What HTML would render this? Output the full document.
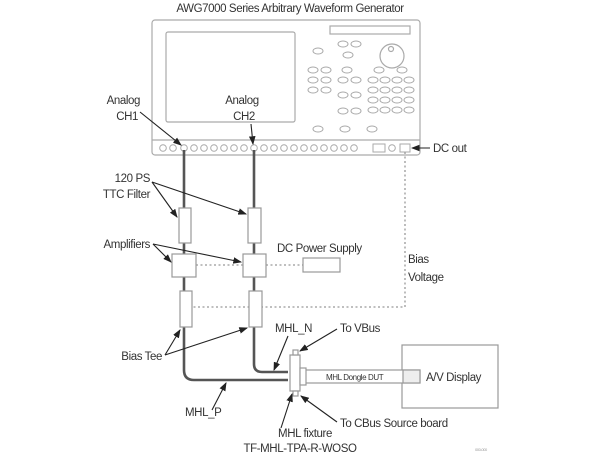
<!DOCTYPE html>
<html><head><style>
html,body{margin:0;padding:0;background:#fff;}
svg{display:block;}
text{font-family:"Liberation Sans",sans-serif;font-size:11.5px;fill:#333;letter-spacing:-0.4px;}
</style></head><body>
<svg width="600" height="458" viewBox="0 0 600 458" xmlns="http://www.w3.org/2000/svg">
<defs><marker id="a" markerWidth="8" markerHeight="6" refX="7" refY="3" orient="auto"><path d="M0,0 L8,3 L0,6 z" fill="#222"/></marker></defs>
<text x="290" y="12" text-anchor="middle">AWG7000 Series Arbitrary Waveform Generator</text>
<!-- AWG box -->
<g fill="none" stroke="#aaa" stroke-width="1.2">
<rect x="152" y="20" width="268" height="135" rx="3"/>
<rect x="166" y="32" width="129" height="90" rx="2"/>
<rect x="330" y="26" width="80" height="8"/>
<circle cx="392" cy="56" r="12"/><circle cx="391" cy="49" r="2.5"/>
<line x1="152" y1="140" x2="420" y2="140"/>
</g>
<g fill="none" stroke="#aaa" stroke-width="1">
<ellipse cx="318" cy="51" rx="5" ry="3"/><ellipse cx="343" cy="44" rx="5" ry="3"/><ellipse cx="356" cy="44" rx="5" ry="3"/><ellipse cx="348" cy="55" rx="5" ry="3"/>
<ellipse cx="313" cy="70" rx="5" ry="3"/><ellipse cx="326" cy="70" rx="5" ry="3"/><ellipse cx="347" cy="70" rx="5" ry="3"/><ellipse cx="379" cy="70" rx="5" ry="3"/><ellipse cx="402" cy="70" rx="5" ry="3"/>
<ellipse cx="313" cy="80" rx="5" ry="3"/><ellipse cx="326" cy="80" rx="5" ry="3"/><ellipse cx="343" cy="80" rx="5" ry="3"/><ellipse cx="356" cy="80" rx="5" ry="3"/>
<ellipse cx="373" cy="80" rx="5" ry="3"/><ellipse cx="385" cy="80" rx="5" ry="3"/><ellipse cx="397" cy="80" rx="5" ry="3"/><ellipse cx="409" cy="80" rx="5" ry="3"/>
<ellipse cx="313" cy="90" rx="5" ry="3"/><ellipse cx="326" cy="90" rx="5" ry="3"/>
<ellipse cx="373" cy="90" rx="5" ry="3"/><ellipse cx="385" cy="90" rx="5" ry="3"/><ellipse cx="397" cy="90" rx="5" ry="3"/><ellipse cx="409" cy="90" rx="5" ry="3"/>
<ellipse cx="343" cy="95" rx="5" ry="3"/><ellipse cx="356" cy="95" rx="5" ry="3"/>
<ellipse cx="373" cy="100" rx="5" ry="3"/><ellipse cx="385" cy="100" rx="5" ry="3"/><ellipse cx="397" cy="100" rx="5" ry="3"/><ellipse cx="409" cy="100" rx="5" ry="3"/>
<ellipse cx="343" cy="111" rx="5" ry="3"/><ellipse cx="356" cy="111" rx="5" ry="3"/>
<ellipse cx="373" cy="110" rx="5" ry="3"/><ellipse cx="385" cy="110" rx="5" ry="3"/><ellipse cx="397" cy="110" rx="5" ry="3"/><ellipse cx="409" cy="110" rx="5" ry="3"/>
<ellipse cx="318" cy="129" rx="5" ry="3"/><ellipse cx="345" cy="129" rx="5" ry="3"/><ellipse cx="372" cy="129" rx="5" ry="3"/>
<circle cx="163" cy="148" r="3.3"/><circle cx="173" cy="148" r="3.3"/><circle cx="184" cy="148" r="3.3"/><circle cx="194" cy="148" r="3.3"/><circle cx="204" cy="148" r="3.3"/><circle cx="214" cy="148" r="3.3"/><circle cx="224" cy="148" r="3.3"/><circle cx="234" cy="148" r="3.3"/><circle cx="244" cy="148" r="3.3"/><circle cx="254" cy="148" r="3.3"/><circle cx="264" cy="148" r="3.3"/><circle cx="274" cy="148" r="3.3"/><circle cx="284" cy="148" r="3.3"/><circle cx="294" cy="148" r="3.3"/><circle cx="304" cy="148" r="3.3"/><circle cx="314" cy="148" r="3.3"/><circle cx="324" cy="148" r="3.3"/><circle cx="334" cy="148" r="3.3"/><circle cx="344" cy="148" r="3.3"/><circle cx="354" cy="148" r="3.3"/>
<rect x="373" y="144" width="12" height="8"/><circle cx="392" cy="148" r="3.3"/><rect x="400" y="144" width="10" height="8"/>
</g>
<!-- thick cables -->
<g fill="none" stroke="#555" stroke-width="2.6">
<path d="M184,150 V370 Q184,380 194,380 H288"/>
<path d="M254,150 V364 Q254,372 262,372 H288"/>
</g>
<!-- dotted -->
<g fill="none" stroke="#999" stroke-width="1.3" stroke-dasharray="2,2.5">
<path d="M405,152 V307 H192"/>
<line x1="196" y1="265" x2="243" y2="265"/>
<line x1="266" y1="265" x2="303" y2="265"/>
</g>
<!-- components -->
<g fill="#fff" stroke="#999" stroke-width="1.2">
<rect x="179" y="208" width="12" height="35"/>
<rect x="248" y="208" width="13" height="35"/>
<rect x="172" y="254" width="24" height="23"/>
<rect x="243" y="254" width="23" height="23"/>
<rect x="180" y="291" width="12" height="36"/>
<rect x="249" y="291" width="13" height="36"/>
<rect x="303" y="258" width="37" height="14"/>
<rect x="402" y="345" width="96" height="63"/>
<rect x="300" y="370" width="120" height="13"/>
<rect x="403" y="370" width="17" height="13" fill="#eee"/>
<rect x="290" y="355" width="10" height="36"/>
<rect x="293" y="350" width="5" height="5"/>
<rect x="293" y="391" width="5" height="5"/>
<rect x="300" y="368" width="6" height="17"/>
</g>
<!-- arrows -->
<g stroke="#222" stroke-width="1.1" fill="none" marker-end="url(#a)">
<line x1="140" y1="112" x2="181" y2="145"/>
<line x1="251" y1="124" x2="253" y2="144"/>
<line x1="430" y1="148" x2="412" y2="148"/>
<line x1="152" y1="182" x2="177" y2="217"/>
<line x1="152" y1="182" x2="246" y2="214"/>
<line x1="153" y1="244" x2="171" y2="262"/>
<line x1="153" y1="244" x2="241" y2="262"/>
<line x1="165" y1="355" x2="180" y2="330"/>
<line x1="165" y1="355" x2="247" y2="328"/>
<line x1="288" y1="336" x2="274" y2="370"/>
<line x1="337" y1="329" x2="300" y2="351"/>
<line x1="212" y1="410" x2="226" y2="383"/>
<line x1="337" y1="422" x2="301" y2="396"/>
<line x1="281" y1="428" x2="292" y2="394"/>
</g>
<text x="140" y="104" text-anchor="end">Analog</text>
<text x="138" y="120" text-anchor="end">CH1</text>
<text x="242" y="104" text-anchor="middle">Analog</text>
<text x="244" y="120" text-anchor="middle">CH2</text>
<text x="433" y="152">DC out</text>
<text x="150" y="182" text-anchor="end">120 PS</text>
<text x="150" y="198" text-anchor="end">TTC Filter</text>
<text x="150" y="248" text-anchor="end">Amplifiers</text>
<text x="277" y="252">DC Power Supply</text>
<text x="408" y="263">Bias</text>
<text x="408" y="281">Voltage</text>
<text x="162" y="360" text-anchor="end">Bias Tee</text>
<text x="275" y="332">MHL_N</text>
<text x="340" y="332">To VBus</text>
<text x="326" y="380" style="font-size:8px">MHL Dongle DUT</text>
<text x="426" y="381">A/V Display</text>
<text x="185" y="416">MHL_P</text>
<text x="340" y="427">To CBus Source board</text>
<text x="305" y="437" text-anchor="middle">MHL fixture</text>
<text x="300" y="452" text-anchor="middle">TF-MHL-TPA-R-WOSO</text>
<text x="475" y="451" style="font-size:4px;fill:#999">000-000</text>
</svg>
</body></html>
